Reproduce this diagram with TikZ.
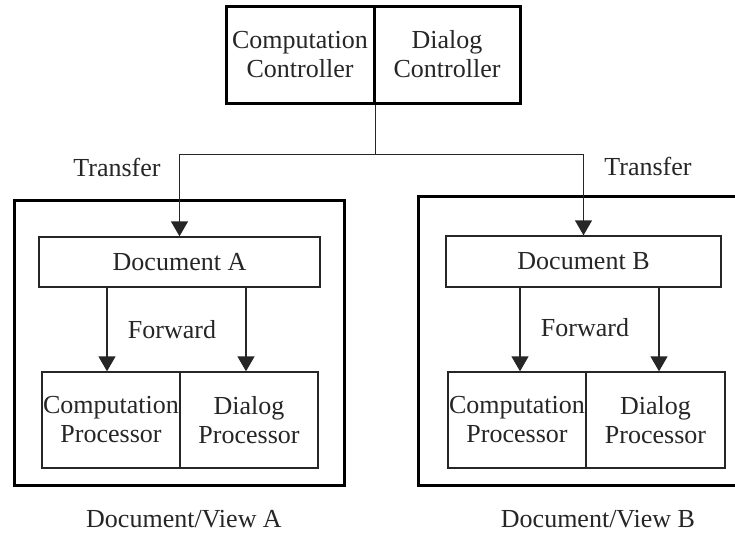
\documentclass[tikz,border=0pt]{standalone}
\usepackage{fontspec}
\setmainfont{Liberation Serif}
\usetikzlibrary{arrows.meta,calc}
\begin{document}
\begin{tikzpicture}[x=1pt,y=-1pt,
  every node/.style={font=\rmfamily\fontsize{26}{29}\selectfont, text=black!85, inner sep=0pt, align=center},
  thin line/.style={line width=1.4pt, draw=black!85},
  thick line/.style={line width=3pt, draw=black},
  cell/.style={rectangle, thin line},
  ctrl/.style={rectangle, thick line, minimum height=97pt},
  frame/.style={thick line},
  arr/.style={thin line, -{Triangle[width=17pt,length=15pt]}},
  plain/.style={thin line}]
\clip (0,0) rectangle (735,533);
\fill[white] (0,0) rectangle (735,533);

% controllers
\node[ctrl, minimum width=148pt] (cc) at (300,54.5) {Computation\\Controller};
\node[ctrl, minimum width=146pt] (dc) at (447,54.5) {Dialog\\Controller};

% view A
\draw[frame] (14,200) rectangle (344,485);
\node[cell, minimum width=281pt, minimum height=50pt] (docA) at (179.5,262) {Document A};
\node[cell, minimum width=138pt, minimum height=96pt] (cpA) at (111,420) {Computation\\Processor};
\node[cell, minimum width=138pt, minimum height=96pt] (dpA) at (249,420) {Dialog\\Processor};

% view B
\draw[frame] (418,196) rectangle (760,485);
\node[cell, minimum width=275pt, minimum height=51pt] (docB) at (583.5,261.5) {Document B};
\node[cell, minimum width=138pt, minimum height=96pt] (cpB) at (517,420) {Computation\\Processor};
\node[cell, minimum width=139pt, minimum height=96pt] (dpB) at (655.5,420) {Dialog\\Processor};

% transfer links
\coordinate (jA) at ($(docA.north)+(0,-82)$);
\coordinate (jB) at (docB.north |- jA);
\draw[plain] (cc.south east) -- (cc.south east |- jA);
\draw[plain] (jA) -- (jB);
\draw[arr] (jA) -- (docA.north);
\draw[arr] (jB) -- (docB.north);

% forward links
\coordinate (fA1) at ($(cpA.north)+(-4,0)$);
\coordinate (fA2) at ($(dpA.north)+(-3,0)$);
\coordinate (fB1) at ($(cpB.north)+(3,0)$);
\coordinate (fB2) at ($(dpB.north)+(3.5,0)$);
\draw[arr] (fA1 |- docA.south) -- (fA1);
\draw[arr] (fA2 |- docA.south) -- (fA2);
\draw[arr] (fB1 |- docB.south) -- (fB1);
\draw[arr] (fB2 |- docB.south) -- (fB2);

% labels
\node (tA) at (117,167) {Transfer};
\node (tB) at (648,166) {Transfer};
\node (fwA) at (172,330) {Forward};
\node (fwB) at (585,328) {Forward};
\node (vA) at (184,519) {Document/View A};
\node (vB) at (598,519) {Document/View B};
\end{tikzpicture}
\end{document}
